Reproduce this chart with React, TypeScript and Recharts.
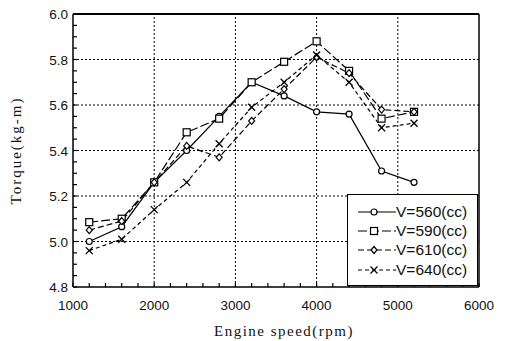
import { LineChart, Line, XAxis, YAxis, ReferenceLine, Legend } from 'recharts'

const rpm = [1200, 1600, 2000, 2400, 2800, 3200, 3600, 4000, 4400, 4800, 5200]
const v560 = [5.0, 5.065, 5.26, 5.4, 5.55, 5.7, 5.64, 5.57, 5.56, 5.31, 5.26]
const v590 = [5.085, 5.1, 5.26, 5.48, 5.54, 5.7, 5.79, 5.88, 5.75, 5.54, 5.57]
const v610 = [5.05, 5.09, 5.26, 5.42, 5.37, 5.53, 5.67, 5.81, 5.74, 5.58, 5.57]
const v640 = [4.96, 5.01, 5.14, 5.26, 5.43, 5.59, 5.7, 5.82, 5.7, 5.5, 5.52]

const seriesNames = ['V=560(cc)', 'V=590(cc)', 'V=610(cc)', 'V=640(cc)']
const xMajor = [1000, 2000, 3000, 4000, 5000, 6000]
const yMajor = [4.8, 5.0, 5.2, 5.4, 5.6, 5.8, 6.0]
const xGrid = [2000, 3000, 4000, 5000]
const yGrid = [5.0, 5.2, 5.4, 5.6, 5.8]

// minor tick steps
const xMinor: number[] = []
for (let v = 1000; v <= 6000; v += 200) xMinor.push(v)
const yMinor: number[] = []
for (let i = 0; i <= 24; i++) yMinor.push(+(4.8 + i * 0.05).toFixed(2))

const data = rpm.map((r, i) => ({
  rpm: r,
  a: v560[i],
  b: v590[i],
  c: v610[i],
  d: v640[i],
}))

const sans = '"Liberation Sans", Arial, Helvetica, sans-serif'
const serif = '"Liberation Serif", "Times New Roman", serif'

type Marker = 'circle' | 'square' | 'diamond' | 'cross'

function mark(kind: Marker, cx: number, cy: number, key?: string | number) {
  const s = { stroke: '#000', strokeWidth: 1.2, fill: '#fff' }
  if (kind === 'circle') return <circle key={key} cx={cx} cy={cy} r={3} {...s} />
  if (kind === 'square')
    return <rect key={key} x={cx - 3.5} y={cy - 3.5} width={7} height={7} {...s} />
  if (kind === 'diamond')
    return (
      <polygon
        key={key}
        points={`${cx},${cy - 3.5} ${cx + 3},${cy} ${cx},${cy + 3.5} ${cx - 3},${cy}`}
        {...s}
      />
    )
  return (
    <g key={key} stroke="#000" strokeWidth={1.3}>
      <line x1={cx - 3.5} y1={cy - 3.5} x2={cx + 3.5} y2={cy + 3.5} />
      <line x1={cx - 3.5} y1={cy + 3.5} x2={cx + 3.5} y2={cy - 3.5} />
    </g>
  )
}

const dotOf = (kind: Marker) => (p: any) => mark(kind, p.cx, p.cy, p.index)

const series = [
  { key: 'a', kind: 'circle' as Marker, dash: undefined },
  { key: 'b', kind: 'square' as Marker, dash: '9 3' },
  { key: 'c', kind: 'diamond' as Marker, dash: '6 3' },
  { key: 'd', kind: 'cross' as Marker, dash: '4 3' },
]

function XTick({ x, y, payload }: any) {
  const v = payload.value
  const major = v % 1000 === 0
  return (
    <g>
      <line x1={x} y1={y} x2={x} y2={y - 4} stroke="#000" strokeWidth={1.2} />
      {major && (
        <text x={x} y={y + 23} textAnchor="middle" fontSize={13.5} fontFamily={sans} fill="#111">
          {v}
        </text>
      )}
    </g>
  )
}

function YTick({ x, y, payload }: any) {
  const v = payload.value
  const major = Math.abs(v * 5 - Math.round(v * 5)) < 1e-6
  return (
    <g>
      <line x1={x} y1={y} x2={x + 4} y2={y} stroke="#000" strokeWidth={1.2} />
      {major && (
        <text x={x - 5} y={y + 5} textAnchor="end" fontSize={13.5} fontFamily={sans} fill="#111">
          {v.toFixed(1)}
        </text>
      )}
    </g>
  )
}

function LegendBox() {
  return (
    <div
      style={{
        border: '1px solid #000',
        background: '#fff',
        width: 131,
        height: 92,
        boxSizing: 'border-box',
        paddingTop: 7,
      }}
    >
      {series.map((s, i) => (
        <div key={s.key} style={{ display: 'flex', alignItems: 'center', height: 19.3 }}>
          <svg width={50} height={12} style={{ marginLeft: 8 }}>
            <line x1={2} y1={6} x2={40} y2={6} stroke="#000" strokeWidth={1.2} strokeDasharray={s.dash} />
            {mark(s.kind, 18, 6)}
          </svg>
          <span style={{ fontFamily: sans, fontSize: 15.5, color: '#111', marginLeft: -10 }}>
            {seriesNames[i]}
          </span>
        </div>
      ))}
    </div>
  )
}

export default function App() {
  return (
    <div style={{ position: 'absolute', left: 0, top: 0, background: '#fff' }}>
      <LineChart width={509} height={341} data={data} margin={{ top: 14, right: 30, left: 0, bottom: 0 }}>
        {xGrid.map(v => (
          <ReferenceLine key={'x' + v} x={v} stroke="#000" strokeDasharray="2 2" />
        ))}
        {yGrid.map(v => (
          <ReferenceLine key={'y' + v} y={v} stroke="#000" strokeDasharray="2 2" />
        ))}
        <ReferenceLine y={6.0} stroke="#000" strokeWidth={1.8} />
        <ReferenceLine x={6000} stroke="#000" strokeWidth={1.5} />
        <XAxis
          dataKey="rpm"
          type="number"
          domain={[xMajor[0], xMajor[xMajor.length - 1]]}
          ticks={xMinor}
          interval={0}
          tickLine={false}
          tickSize={0}
          tickMargin={0}
          tick={<XTick />}
          height={54}
          axisLine={{ stroke: '#000', strokeWidth: 1.5 }}
          label={{
            value: 'Engine speed(rpm)',
            position: 'insideBottom',
            offset: 5,
            dx: 8,
            style: { fontFamily: serif, fontSize: 15, letterSpacing: 1.5, fill: '#111' },
          }}
        />
        <YAxis
          type="number"
          domain={[yMajor[0], yMajor[yMajor.length - 1]]}
          ticks={yMinor}
          interval={0}
          tickLine={false}
          tickSize={0}
          tickMargin={0}
          tick={<YTick />}
          width={73}
          axisLine={{ stroke: '#000', strokeWidth: 1.5 }}
          label={{
            value: 'Torque(kg-m)',
            angle: -90,
            position: 'insideLeft',
            offset: 16,
            style: { textAnchor: 'middle', fontFamily: serif, fontSize: 15, letterSpacing: 2, fill: '#111' },
          }}
        />
        {series.map(s => (
          <Line
            key={s.key}
            dataKey={s.key}
            type="linear"
            stroke="#000"
            strokeWidth={1.2}
            strokeDasharray={s.dash}
            dot={dotOf(s.kind)}
            activeDot={false}
            isAnimationActive={false}
            legendType="none"
          />
        ))}
        <Legend
          layout="vertical"
          align="center"
          verticalAlign="middle"
          content={<LegendBox />}
          wrapperStyle={{ position: 'absolute', left: 347, top: 194, width: 131, height: 92 }}
        />
      </LineChart>
    </div>
  )
}
